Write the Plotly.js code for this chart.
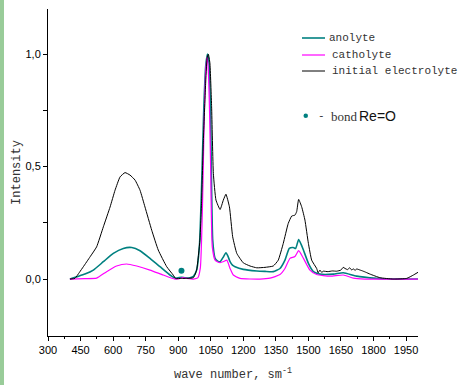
<!DOCTYPE html>
<html>
<head>
<meta charset="utf-8">
<script src="https://cdn.plot.ly/plotly-3.0.1.min.js"></script>
<style>
html,body{margin:0;padding:0;background:#fff;}
#chart{width:458px;height:385px;}
</style>
</head>
<body>
<div id="chart"></div>
<script>
// wave numbers (sm^-1) and intensities
var anolyteX = [401, 432, 470, 509, 555, 601, 647, 686, 724, 770, 816, 862, 887, 915, 930, 950, 970, 985, 998, 1008, 1018, 1027, 1035, 1042, 1049, 1059, 1070, 1082, 1093, 1106, 1120, 1130, 1139, 1150, 1162, 1200, 1262, 1300, 1338, 1369, 1392, 1412, 1430, 1441, 1455, 1466, 1477, 1500, 1523, 1553, 1615, 1661, 1722, 1815, 1870, 2005];
var anolyteY = [0, 0.01, 0.022, 0.04, 0.077, 0.114, 0.136, 0.14, 0.126, 0.092, 0.055, 0.018, 0.004, 0.008, 0.006, 0.005, 0.012, 0.04, 0.15, 0.42, 0.76, 0.95, 1.0, 0.96, 0.75, 0.173, 0.092, 0.08, 0.077, 0.095, 0.117, 0.1, 0.077, 0.062, 0.055, 0.043, 0.036, 0.034, 0.033, 0.047, 0.084, 0.136, 0.14, 0.136, 0.176, 0.155, 0.129, 0.07, 0.033, 0.022, 0.022, 0.028, 0.013, 0.003, 0, 0];

var catholyteX = [401, 470, 524, 570, 616, 662, 709, 770, 831, 885, 905, 920, 940, 970, 990, 1002, 1012, 1020, 1027, 1034, 1040, 1045, 1050, 1057, 1070, 1082, 1093, 1110, 1124, 1139, 1154, 1185, 1277, 1323, 1369, 1392, 1415, 1438, 1455, 1477, 1507, 1538, 1600, 1661, 1707, 1760, 2005];
var catholyteY = [0, 0.002, 0.004, 0.033, 0.058, 0.067, 0.058, 0.04, 0.018, 0, 0.002, 0.006, 0.003, 0, 0.005, 0.05, 0.33, 0.72, 0.93, 0.987, 0.9, 0.72, 0.469, 0.143, 0.084, 0.076, 0.073, 0.078, 0.084, 0.047, 0.018, 0.003, 0, 0.004, 0.02, 0.047, 0.092, 0.1, 0.126, 0.092, 0.04, 0.02, 0.013, 0.018, 0.004, 0, 0];

var initialX = [401, 424, 445, 463, 494, 524, 555, 586, 609, 632, 655, 678, 701, 724, 747, 778, 808, 847, 877, 889, 915, 939, 970, 985, 1000, 1008, 1016, 1026, 1033, 1039, 1046, 1054, 1062, 1074, 1093, 1108, 1120, 1136, 1151, 1170, 1200, 1231, 1262, 1300, 1338, 1361, 1384, 1407, 1423, 1438, 1446, 1455, 1469, 1484, 1500, 1515, 1538, 1545, 1553, 1561, 1569, 1590, 1610, 1630, 1650, 1660, 1669, 1680, 1690, 1700, 1707, 1715, 1722, 1738, 1750, 1765, 1784, 1830, 1891, 1953, 1984, 2005];
var initialY = [0, 0.003, 0.03, 0.055, 0.099, 0.143, 0.232, 0.32, 0.395, 0.454, 0.473, 0.462, 0.44, 0.395, 0.32, 0.217, 0.129, 0.055, 0.018, 0.002, 0.003, 0.003, 0.006, 0.04, 0.173, 0.35, 0.617, 0.86, 0.98, 0.999, 0.96, 0.765, 0.469, 0.351, 0.309, 0.351, 0.377, 0.321, 0.188, 0.114, 0.072, 0.058, 0.05, 0.052, 0.058, 0.084, 0.158, 0.247, 0.28, 0.284, 0.3, 0.354, 0.321, 0.262, 0.158, 0.084, 0.047, 0.028, 0.04, 0.03, 0.035, 0.033, 0.036, 0.035, 0.04, 0.052, 0.047, 0.042, 0.05, 0.04, 0.046, 0.038, 0.045, 0.04, 0.036, 0.03, 0.022, 0.006, 0, 0.003, 0.018, 0.03];

var bondX = [915];
var bondY = [0.037];

var xTicks = [300, 450, 600, 750, 900, 1050, 1200, 1350, 1500, 1650, 1800, 1950];
var yTicks = [0, 0.5, 1.0];
var yTickText = ['0,0', '0,5', '1,0'];

var tickFont = {family: 'Liberation Sans Narrow, Arial Narrow, Liberation Sans, Arial', size: 11, color: '#000'};
var monoFont = {family: 'Liberation Mono, Courier New, monospace', size: 11, color: '#333'};
var titleFont = {family: 'Liberation Mono, Courier New, monospace', size: 12, color: '#333'};

var traces = [
  {x: anolyteX, y: anolyteY, mode: 'lines', name: 'anolyte',
   line: {color: '#008080', width: 1.6, shape: 'spline', smoothing: 0.5}},
  {x: catholyteX, y: catholyteY, mode: 'lines', name: 'catholyte',
   line: {color: '#ff00ff', width: 1.2, shape: 'spline', smoothing: 0.5}},
  {x: initialX, y: initialY, mode: 'lines', name: 'initial electrolyte',
   line: {color: '#000000', width: 1, shape: 'spline', smoothing: 0.4}},
  {x: bondX, y: bondY, mode: 'markers', name: 'bond Re=O',
   marker: {color: '#008080', size: 6}}
];

// paper coordinates helpers for a 370x327 plot area starting at (48, 9)
function px(v){ return (v - 48) / 370; }
function py(v){ return (336 - v) / 327; }

var layout = {
  width: 458, height: 385,
  margin: {l: 48, r: 40, t: 9, b: 49},
  paper_bgcolor: '#fff', plot_bgcolor: '#fff',
  showlegend: false,
  xaxis: {
    range: [300, 2005], tickvals: xTicks, ticktext: xTicks.map(String),
    ticks: 'outside', ticklen: 4, tickcolor: '#000', tickwidth: 1,
    minor: {dtick: 75, tick0: 300, ticks: 'outside', ticklen: 2, tickcolor: '#000'},
    showline: true, linecolor: '#000', linewidth: 1,
    showgrid: false, zeroline: false, tickfont: tickFont,
    title: {text: 'wave number, sm<sup>-1</sup>', font: titleFont, standoff: 14}
  },
  yaxis: {
    range: [-0.253, 1.2], tickvals: yTicks, ticktext: yTickText,
    ticks: 'outside', ticklen: 4, tickcolor: '#000', tickwidth: 1,
    minor: {tickvals: [0.25, 0.75], ticks: 'outside', ticklen: 4, tickcolor: '#000'},
    showline: true, linecolor: '#000', linewidth: 1,
    showgrid: false, zeroline: false, tickfont: tickFont,
    title: {text: 'Intensity', font: titleFont, standoff: 2}
  },
  shapes: [
    {type: 'rect', xref: 'paper', yref: 'paper', x0: px(0), x1: px(4), y0: py(385), y1: py(0),
     fillcolor: '#99cc99', line: {width: 0}},
    {type: 'line', xref: 'paper', yref: 'paper', x0: px(302), x1: px(325), y0: py(38), y1: py(38),
     line: {color: '#008080', width: 1.6}},
    {type: 'line', xref: 'paper', yref: 'paper', x0: px(302), x1: px(325), y0: py(55), y1: py(55),
     line: {color: '#ff00ff', width: 1.2}},
    {type: 'line', xref: 'paper', yref: 'paper', x0: px(302), x1: px(325), y0: py(71), y1: py(71),
     line: {color: '#000000', width: 1}},
    {type: 'circle', xref: 'paper', yref: 'paper', x0: px(303.5), x1: px(308), y0: py(113.5), y1: py(118),
     fillcolor: '#008080', line: {width: 0}}
  ],
  annotations: [
    {xref: 'paper', yref: 'paper', x: px(327), y: py(38), xanchor: 'left', yanchor: 'middle',
     text: 'anolyte', showarrow: false, font: monoFont},
    {xref: 'paper', yref: 'paper', x: px(330), y: py(55), xanchor: 'left', yanchor: 'middle',
     text: 'catholyte', showarrow: false, font: monoFont},
    {xref: 'paper', yref: 'paper', x: px(330), y: py(71), xanchor: 'left', yanchor: 'middle',
     text: 'initial electrolyte', showarrow: false, font: monoFont},
    {xref: 'paper', yref: 'paper', x: px(316), y: py(116), xanchor: 'left', yanchor: 'middle',
     text: '-', showarrow: false, font: {family: 'Liberation Mono, monospace', size: 11, color: '#333'}},
    {xref: 'paper', yref: 'paper', x: px(329), y: py(116), xanchor: 'left', yanchor: 'middle',
     text: 'bond', showarrow: false, font: {family: 'Liberation Serif, Times New Roman, serif', size: 13, color: '#333'}},
    {xref: 'paper', yref: 'paper', x: px(357), y: py(116), xanchor: 'left', yanchor: 'middle',
     text: 'Re=O', showarrow: false, font: {family: 'Liberation Sans Narrow, Arial Narrow, Liberation Sans, Arial', size: 14, color: '#111'}}
  ]
};

Plotly.newPlot('chart', traces, layout, {displayModeBar: false, staticPlot: true});
</script>
</body>
</html>
